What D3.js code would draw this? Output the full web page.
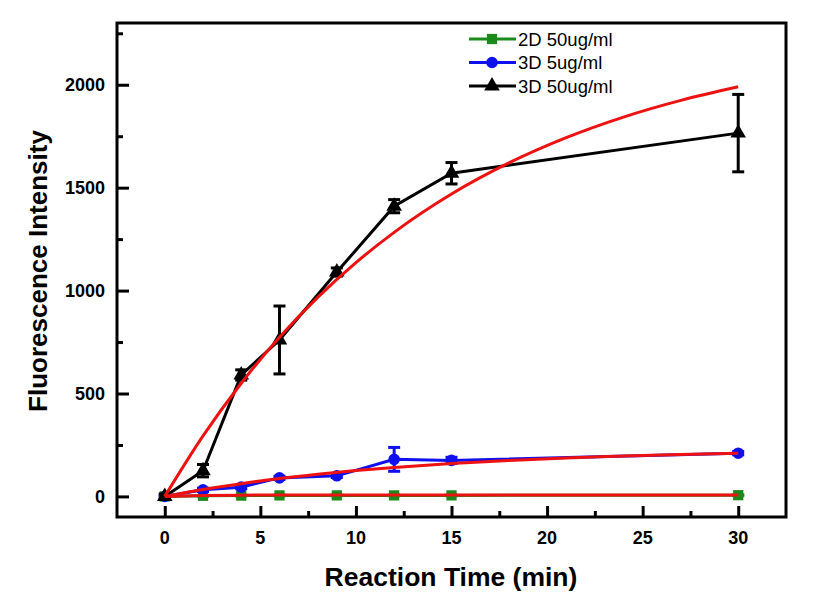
<!DOCTYPE html>
<html>
<head>
<meta charset="utf-8">
<script src="https://cdn.jsdelivr.net/npm/d3@7"></script>
<style>
  body { margin: 0; background: #fff; }
  text { font-family: "Liberation Sans", Arial, sans-serif; }
</style>
</head>
<body>
<div id="chart"></div>
<script>
// Datos

const tiempos = [0, 2, 4, 6, 9, 12, 15, 30];

const verde50 = [0, 3, 4, 5, 5, 5, 5, 6];
const verde50Err = [2, 2, 2, 2, 2, 2, 2, 2];

const azul5 = [0, 32, 45, 90, 100, 180, 175, 210];
const azul5Err = [8, 8, 8, 8, 8, 58, 15, 8];

const negro50 = [0, 125, 590, 760, 1090, 1410, 1570, 1765];
const negro50Err = [12, 30, 25, 165, 20, 32, 52, 188];

// curvas de ajuste (rojas)
const tiemposAjuste = [0, 2, 4, 6, 8, 10, 12, 15, 18, 21, 24, 27, 30];
const ajusteVerde = [0, 4, 6, 7, 7, 7, 7, 7, 7, 7, 7, 7, 7];
const ajusteAzul = [0, 34, 62, 87, 108, 126, 141, 160, 175, 187, 196, 204, 210];
const ajusteNegro = [0, 294, 550, 773, 967, 1136, 1283, 1469, 1620, 1743, 1843, 1924, 1990];

const xTicks = [0, 5, 10, 15, 20, 25, 30];
const yTicks = [0, 500, 1000, 1500, 2000];

const series = [
    { nombre: "2D 50ug/ml", valores: verde50, err: verde50Err, color: "#1a8a1a", simbolo: d3.symbolSquare },
    { nombre: "3D 5ug/ml", valores: azul5, err: azul5Err, color: "#1010ee", simbolo: d3.symbolCircle },
    { nombre: "3D 50ug/ml", valores: negro50, err: negro50Err, color: "#000000", simbolo: d3.symbolTriangle },
];
const ajustes = [ajusteVerde, ajusteAzul, ajusteNegro];

// Construccion

const WIDTH = 813;
const HEIGHT = 601;
const MARGIN = { top: 23, bottom: 84, left: 117, right: 27 };

const svg = d3.select("#chart")
    .append("svg")
    .attr("width", WIDTH)
    .attr("height", HEIGHT);

const x = d3.scaleLinear()
    .domain([-2.5, 32.5])
    .range([MARGIN.left, WIDTH - MARGIN.right]);

const y = d3.scaleLinear()
    .domain([-100, 2300])
    .range([HEIGHT - MARGIN.bottom, MARGIN.top]);

const plotBottom = HEIGHT - MARGIN.bottom;

// ticks menores
svg.append("g")
    .attr("transform", `translate(0, ${plotBottom})`)
    .call(d3.axisTop(x).tickValues(d3.range(2.5, 32.5, 5)).tickSize(6).tickFormat(""))
    .call(g => g.select(".domain").remove())
    .selectAll("line").attr("stroke-width", 3);

svg.append("g")
    .attr("transform", `translate(${MARGIN.left}, 0)`)
    .call(d3.axisRight(y).tickValues(d3.range(250, 2300, 500)).tickSize(6).tickFormat(""))
    .call(g => g.select(".domain").remove())
    .selectAll("line").attr("stroke-width", 3);

// ticks mayores
const ejeX = svg.append("g")
    .attr("transform", `translate(0, ${plotBottom})`)
    .call(d3.axisTop(x).tickValues(xTicks).tickSize(11).tickFormat(""));
ejeX.select(".domain").remove();
ejeX.selectAll("line").attr("stroke-width", 3);

svg.append("g")
    .selectAll("text")
    .data(xTicks)
    .join("text")
    .attr("x", d => x(d))
    .attr("y", plotBottom + 27)
    .attr("text-anchor", "middle")
    .attr("font-size", 18)
    .attr("font-weight", "bold")
    .text(d => d);

const ejeY = svg.append("g")
    .attr("transform", `translate(${MARGIN.left}, 0)`)
    .call(d3.axisRight(y).tickValues(yTicks).tickSize(12).tickFormat(""));
ejeY.select(".domain").remove();
ejeY.selectAll("line").attr("stroke-width", 3);

svg.append("g")
    .selectAll("text")
    .data(yTicks)
    .join("text")
    .attr("x", MARGIN.left - 12)
    .attr("y", d => y(d) + 6.5)
    .attr("text-anchor", "end")
    .attr("font-size", 18)
    .attr("font-weight", "bold")
    .text(d => d);

// marco
svg.append("rect")
    .attr("x", MARGIN.left)
    .attr("y", MARGIN.top)
    .attr("width", WIDTH - MARGIN.left - MARGIN.right)
    .attr("height", plotBottom - MARGIN.top)
    .attr("fill", "none")
    .attr("stroke", "black")
    .attr("stroke-width", 3);

// series
const linea = d3.line()
    .x(d => x(d[0]))
    .y(d => y(d[1]));

series.forEach(s => {
    const pts = tiempos.map((t, i) => [t, s.valores[i], s.err[i]]);
    const g = svg.append("g");

    g.append("path")
        .attr("d", linea(pts))
        .attr("fill", "none")
        .attr("stroke", s.color)
        .attr("stroke-width", 3);

    const eb = g.selectAll(".err")
        .data(pts)
        .join("g")
        .attr("class", "err")
        .attr("stroke", s.color)
        .attr("stroke-width", 3);
    eb.append("line")
        .attr("x1", d => x(d[0])).attr("x2", d => x(d[0]))
        .attr("y1", d => y(d[1] - d[2])).attr("y2", d => y(d[1] + d[2]));
    eb.append("line")
        .attr("x1", d => x(d[0]) - 6).attr("x2", d => x(d[0]) + 6)
        .attr("y1", d => y(d[1] + d[2])).attr("y2", d => y(d[1] + d[2]));
    eb.append("line")
        .attr("x1", d => x(d[0]) - 6).attr("x2", d => x(d[0]) + 6)
        .attr("y1", d => y(d[1] - d[2])).attr("y2", d => y(d[1] - d[2]));

    g.selectAll(".marca")
        .data(pts)
        .join("path")
        .attr("class", "marca")
        .attr("d", d3.symbol().type(s.simbolo).size(105))
        .attr("transform", d => `translate(${x(d[0])}, ${y(d[1])})`)
        .attr("fill", s.color);
});

// ajustes
const curva = d3.line()
    .x(d => x(d[0]))
    .y(d => y(d[1]))
    .curve(d3.curveMonotoneX);

ajustes.forEach(a => {
    svg.append("path")
        .attr("d", curva(tiemposAjuste.map((t, i) => [t, a[i]])))
        .attr("fill", "none")
        .attr("stroke", "#ee1111")
        .attr("stroke-width", 3);
});

// leyenda
const leyenda = svg.append("g")
    .selectAll("g")
    .data(series)
    .join("g")
    .attr("transform", (d, i) => `translate(469, ${39 + i * 23.5})`);

leyenda.append("line")
    .attr("x1", 0).attr("x2", 47)
    .attr("stroke", d => d.color)
    .attr("stroke-width", 3);

leyenda.append("path")
    .attr("d", d => d3.symbol().type(d.simbolo).size(105)())
    .attr("transform", "translate(23, 0)")
    .attr("fill", d => d.color);

leyenda.append("text")
    .attr("x", 49)
    .attr("y", 6.5)
    .attr("font-size", 18.5)
    .text(d => d.nombre);

// titulos de ejes
svg.append("text")
    .attr("x", 451)
    .attr("y", 586)
    .attr("text-anchor", "middle")
    .attr("font-size", 26.5)
    .attr("font-weight", "bold")
    .text("Reaction Time (min)");

svg.append("text")
    .attr("transform", `translate(47, 271) rotate(-90)`)
    .attr("text-anchor", "middle")
    .attr("font-size", 26)
    .attr("font-weight", "bold")
    .text("Fluorescence Intensity");
</script>
</body>
</html>
